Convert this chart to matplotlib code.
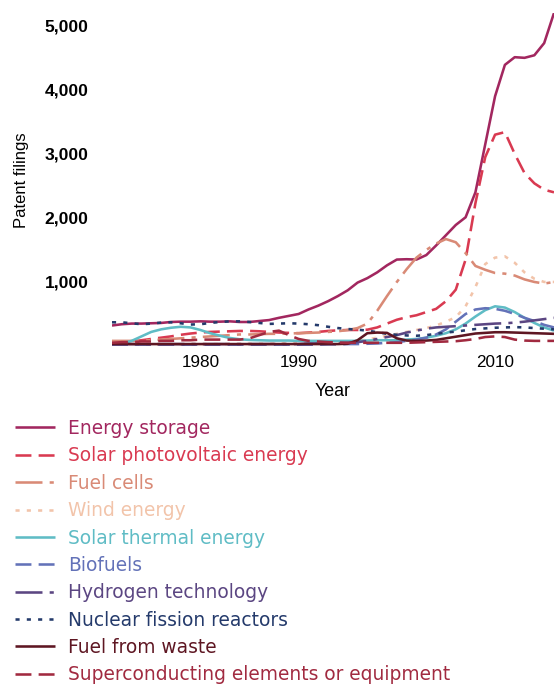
import matplotlib
matplotlib.use("Agg")
import matplotlib.pyplot as plt
import numpy as np

years = list(range(1971, 2017))

series_names = [
    "Energy storage",
    "Solar photovoltaic energy",
    "Fuel cells",
    "Wind energy",
    "Solar thermal energy",
    "Biofuels",
    "Hydrogen technology",
    "Nuclear fission reactors",
    "Fuel from waste",
    "Superconducting elements or equipment",
]

energy_storage = [320, 340, 350, 350, 355, 360, 375, 380, 380, 385,
                  380, 380, 385, 375, 375, 390, 405, 440, 470, 500,
                  570, 630, 700, 780, 870, 990, 1060, 1150, 1260, 1350,
                  1355, 1350, 1420, 1570, 1730, 1890, 2010, 2400, 3150, 3900,
                  4390, 4510, 4500, 4540, 4730, 5200]
solar_pv = [60, 60, 70, 90, 110, 130, 150, 175, 195, 210,
            220, 225, 230, 235, 235, 230, 220, 210, 205, 200,
            210, 220, 235, 245, 250, 250, 255, 290, 350, 410,
            450, 480, 530, 580, 700, 880, 1350, 2230, 2950, 3300,
            3340, 3000, 2700, 2540, 2440, 2400]
fuel_cells = [80, 80, 80, 85, 90, 100, 110, 120, 130, 140,
              150, 160, 170, 180, 180, 185, 190, 190, 195, 200,
              205, 210, 220, 230, 250, 280, 350, 550, 780, 1000,
              1200, 1380, 1500, 1600, 1670, 1620, 1450, 1250, 1190, 1140,
              1130, 1100, 1040, 1000, 975, 1000]
wind = [20, 20, 20, 20, 20, 25, 25, 25, 30, 30,
        30, 30, 30, 30, 35, 35, 35, 40, 40, 40,
        45, 50, 55, 60, 70, 80, 100, 130, 160, 190,
        220, 250, 280, 320, 380, 450, 620, 920, 1280, 1380,
        1400, 1300, 1150, 1050, 1000, 1000]
solar_thermal = [30, 40, 80, 150, 220, 260, 285, 300, 290, 250,
                 200, 160, 125, 105, 95, 90, 85, 85, 85, 80,
                 80, 80, 80, 80, 80, 80, 85, 90, 90, 90,
                 100, 110, 130, 160, 200, 260, 350, 460, 560, 620,
                 600, 530, 440, 360, 290, 240]
biofuels = [20, 20, 20, 20, 20, 20, 20, 20, 20, 20,
            20, 20, 20, 20, 20, 20, 20, 20, 20, 20,
            20, 20, 25, 25, 30, 30, 35, 40, 50, 60,
            80, 100, 130, 180, 260, 380, 500, 570, 590, 580,
            550, 500, 440, 390, 330, 290]
hydrogen = [30, 30, 30, 30, 30, 30, 30, 30, 30, 30,
            30, 30, 30, 30, 30, 30, 30, 30, 30, 30,
            40, 40, 40, 45, 50, 60, 80, 110, 140, 170,
            210, 240, 270, 290, 300, 310, 320, 330, 340, 350,
            355, 365, 380, 400, 420, 440]
nuclear = [370, 370, 355, 340, 350, 365, 370, 355, 335, 340,
           360, 375, 385, 385, 375, 360, 345, 350, 355, 350,
           340, 325, 300, 280, 265, 255, 240, 215, 190, 175,
           165, 160, 170, 190, 210, 225, 245, 265, 275, 285,
           290, 295, 290, 280, 270, 260]
fuel_waste = [30, 30, 30, 30, 30, 30, 30, 30, 30, 30,
              30, 30, 30, 30, 30, 30, 30, 30, 30, 30,
              30, 30, 30, 30, 35, 90, 200, 210, 205, 120,
              85, 80, 85, 95, 120, 145, 170, 195, 205, 215,
              215, 210, 205, 200, 195, 190]
superconducting = [50, 60, 60, 70, 70, 80, 80, 90, 90, 100,
                   100, 100, 100, 100, 120, 170, 220, 240, 170, 110,
                   80, 70, 60, 55, 50, 50, 50, 50, 50, 50,
                   50, 55, 60, 65, 70, 75, 90, 110, 140, 150,
                   140, 100, 85, 80, 80, 80]

y_ticks = [1000, 2000, 3000, 4000, 5000]
x_ticks = [1980, 1990, 2000, 2010]

all_series = [energy_storage, solar_pv, fuel_cells, wind, solar_thermal,
              biofuels, hydrogen, nuclear, fuel_waste, superconducting]

colors = ["#a2275f", "#d93a51", "#d98a76", "#f2c4aa", "#5fbcc5",
          "#6372b8", "#5b4682", "#243a6b", "#5e1622", "#a12a40"]
LW = 1.85
dash_solid = None
dash_d = (6.2, 2.8)
dash_dd = (10.5, 2.8, 1.6, 2.8)
dash_dot = (1.6, 2.8)
dashes = [dash_solid, dash_d, dash_dd, dash_dot, dash_solid,
          dash_d, dash_dd, dash_dot, dash_solid, dash_d]

W, H = 557, 686
fig = plt.figure(figsize=(W / 100, H / 100), dpi=100)
ax = fig.add_axes([112 / W, 1 - 346 / H, 442 / W, 333 / H])

handles = []
for name, vals, c, d in zip(series_names, all_series, colors, dashes):
    (ln,) = ax.plot(years, vals, color=c, lw=LW, label=name,
                    solid_capstyle="butt", dash_capstyle="butt")
    if d is not None:
        ln.set_dashes(d)
    handles.append(ln)

ax.set_xlim(1971, 2016)
ax.set_ylim(0, 5200)
ax.set_xticks(x_ticks)
ax.set_yticks(y_ticks)
ax.set_xticklabels([str(t) for t in x_ticks], fontfamily="Liberation Sans", fontsize=12.3)
ax.set_yticklabels([f"{t:,}" for t in y_ticks], fontfamily="Liberation Sans",
                   fontsize=12.6, fontweight="bold")
ax.tick_params(axis="x", length=0, pad=6.5)
ax.tick_params(axis="y", length=0, pad=17)
for s in ax.spines.values():
    s.set_visible(False)
ax.set_facecolor("none")

fig.text(22 / W, 1 - 180 / H, "Patent filings", rotation=90, ha="center", va="center",
         fontfamily="Liberation Sans", fontsize=12)
fig.text(333 / W, 1 - 391 / H, "Year", ha="center", va="center",
         fontfamily="Liberation Sans", fontsize=12.8)

leg = fig.legend(handles, series_names, loc="upper left",
                 bbox_to_anchor=(15 / W, 1 - 419 / H), frameon=False,
                 prop={"family": "DejaVu Sans", "size": 13.4},
                 handlelength=2.15, handletextpad=0.72, labelspacing=0.45,
                 borderpad=0, borderaxespad=0)
for t, c in zip(leg.get_texts(), colors):
    t.set_color(c)

fig.savefig("out.png", dpi=100)
